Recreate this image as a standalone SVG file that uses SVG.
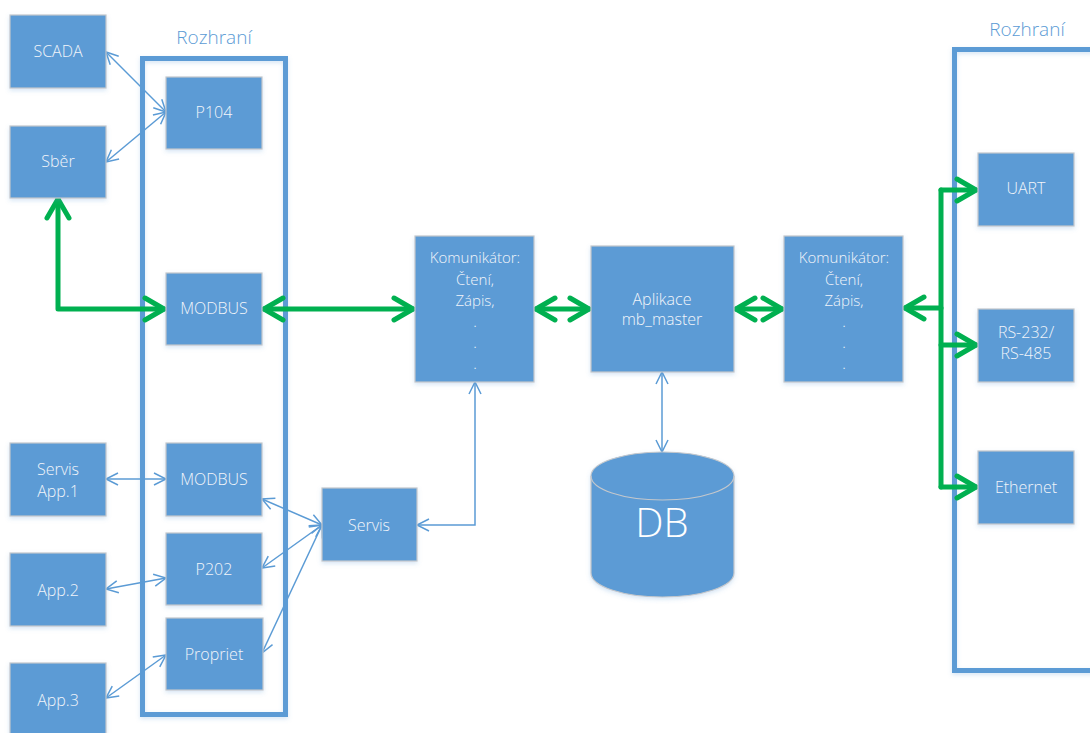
<svg xmlns="http://www.w3.org/2000/svg" width="1090" height="733" viewBox="0 0 1090 733">
  <style>
    .box { fill: #5B9BD5; stroke: #C3C7CC; stroke-width: 1.2; filter: url(#soft); }
    .frame { fill: none; stroke: #5B9BD5; stroke-width: 5; filter: url(#soft); }
    .lbl { font-family: "Open Sans", "Liberation Sans", sans-serif; font-weight: 300; font-size: 16px; fill: #F2F5FA; text-anchor: middle; }
    .kom { font-size: 15px; }
    .title { font-family: "Open Sans", "Liberation Sans", sans-serif; font-weight: 300; font-size: 19px; fill: #5B9BD5; text-anchor: middle; }
    .db { font-family: "Open Sans", "Liberation Sans", sans-serif; font-weight: 300; font-size: 40px; fill: #FFFFFF; text-anchor: middle; }
    .thin { fill: none; stroke: #5B9BD5; stroke-width: 1.5; marker-start: url(#blueHead); marker-end: url(#blueHead); }
    .thick { fill: none; stroke: #00B050; stroke-width: 5; stroke-linejoin: round; stroke-linecap: round; }
    .both { marker-start: url(#greenHead); marker-end: url(#greenHead); }
    .end { marker-end: url(#greenHead); }
  </style>
  <defs>
    <filter id="soft" x="-10%" y="-10%" width="120%" height="125%">
      <feDropShadow dx="0" dy="2" stdDeviation="2" flood-color="#5B9BD5" flood-opacity="0.25"/>
    </filter>
    <marker id="blueHead" markerUnits="userSpaceOnUse" viewBox="-14 -8 16 16" refX="0" refY="0" markerWidth="16" markerHeight="16" orient="auto-start-reverse" overflow="visible">
      <path d="M -12 -6 L 0 0 L -12 6" fill="none" stroke="#5B9BD5" stroke-width="1.5"/>
    </marker>
    <marker id="greenHead" markerUnits="userSpaceOnUse" viewBox="-24 -14 28 28" refX="0" refY="0" markerWidth="28" markerHeight="28" orient="auto-start-reverse" overflow="visible">
      <path d="M -19 -11 L 0 0 L -19 11" fill="none" stroke="#00B050" stroke-width="5" stroke-linecap="round" stroke-linejoin="round"/>
    </marker>
  </defs>

  <rect width="1090" height="733" fill="#FFFFFF"/>

  <!-- interface frames -->
  <g id="frame-left">
    <text class="title" x="214" y="44">Rozhraní</text>
    <rect class="frame" x="142.5" y="58.5" width="143" height="656"/>
  </g>
  <g id="frame-right">
    <text class="title" x="1027" y="36">Rozhraní</text>
    <rect class="frame" x="954.5" y="49.5" width="200" height="621"/>
  </g>

  <!-- connectors -->
  <g id="connectors">
    <path class="thin" d="M 106 52 L 166 112"/>
    <path class="thin" d="M 106 162 L 166 112"/>
    <path class="thin" d="M 106 479 L 166 479"/>
    <path class="thin" d="M 106 589 L 166 578"/>
    <path class="thin" d="M 106 698 L 166 655"/>
    <path class="thin" d="M 262 499 L 322 525"/>
    <path class="thin" d="M 262 568 L 322 525"/>
    <path class="thin" d="M 262 653 L 322 525"/>
    <path class="thin" d="M 475 382 V 525 H 417"/>
    <path class="thin" d="M 662 372 V 452"/>

    <path class="thick both" d="M 58 199 V 309 H 164"/>
    <path class="thick both" d="M 264 309 H 413"/>
    <path class="thick both" d="M 536 309 H 589"/>
    <path class="thick both" d="M 736 309 H 782"/>
    <path class="thick end" d="M 941 308 H 905"/>
    <path class="thick" d="M 941 190 V 487"/>
    <path class="thick end" d="M 941 190 H 976"/>
    <path class="thick end" d="M 941 345 H 976"/>
    <path class="thick end" d="M 941 487 H 976"/>
  </g>

  <!-- left column -->
  <g id="scada">
    <rect class="box" x="10" y="15" width="96" height="73"/>
    <text class="lbl" x="58" y="57">SCADA</text>
  </g>
  <g id="sber">
    <rect class="box" x="10" y="126" width="96" height="72"/>
    <text class="lbl" x="58" y="167">Sběr</text>
  </g>
  <g id="servis-app1">
    <rect class="box" x="10" y="443" width="96" height="73"/>
    <text class="lbl" x="58" y="475">Servis</text>
    <text class="lbl" x="58" y="497">App.1</text>
  </g>
  <g id="app2">
    <rect class="box" x="10" y="553" width="96" height="73"/>
    <text class="lbl" x="58" y="596">App.2</text>
  </g>
  <g id="app3">
    <rect class="box" x="10" y="663" width="96" height="73"/>
    <text class="lbl" x="58" y="706">App.3</text>
  </g>

  <!-- left interfaces -->
  <g id="p104">
    <rect class="box" x="166" y="77" width="96" height="72"/>
    <text class="lbl" x="214" y="118">P104</text>
  </g>
  <g id="modbus-top">
    <rect class="box" x="166" y="273" width="96" height="72"/>
    <text class="lbl" x="214" y="314">MODBUS</text>
  </g>
  <g id="modbus-bottom">
    <rect class="box" x="166" y="443" width="96" height="73"/>
    <text class="lbl" x="214" y="485">MODBUS</text>
  </g>
  <g id="p202">
    <rect class="box" x="166" y="533" width="96" height="72"/>
    <text class="lbl" x="214" y="575">P202</text>
  </g>
  <g id="propriet">
    <rect class="box" x="166" y="618" width="97" height="72"/>
    <text class="lbl" x="214" y="660">Propriet</text>
  </g>

  <g id="servis">
    <rect class="box" x="322" y="488" width="95" height="73"/>
    <text class="lbl" x="369" y="531">Servis</text>
  </g>

  <!-- core -->
  <g id="komunikator-left">
    <rect class="box" x="415" y="236" width="119" height="146"/>
    <text class="lbl kom" x="475" y="263">Komunikátor:</text>
    <text class="lbl kom" x="475" y="285">Čtení,</text>
    <text class="lbl kom" x="475" y="306">Zápis,</text>
    <text class="lbl kom" x="475" y="327">.</text>
    <text class="lbl kom" x="475" y="348">.</text>
    <text class="lbl kom" x="475" y="369">.</text>
  </g>
  <g id="aplikace">
    <rect class="box" x="591" y="246" width="143" height="126"/>
    <text class="lbl" x="662" y="305">Aplikace</text>
    <text class="lbl" x="662" y="325">mb_master</text>
  </g>
  <g id="komunikator-right">
    <rect class="box" x="784" y="236" width="119" height="146"/>
    <text class="lbl kom" x="844" y="263">Komunikátor:</text>
    <text class="lbl kom" x="844" y="285">Čtení,</text>
    <text class="lbl kom" x="844" y="306">Zápis,</text>
    <text class="lbl kom" x="844" y="327">.</text>
    <text class="lbl kom" x="844" y="348">.</text>
    <text class="lbl kom" x="844" y="369">.</text>
  </g>

  <g id="db">
    <path class="box" d="M 591 476 V 573 A 71.5 24 0 0 0 734 573 V 476 A 71.5 24 0 0 0 591 476 Z"/>
    <path d="M 591 476 A 71.5 24 0 0 0 734 476" fill="none" stroke="#C3C7CC" stroke-width="1.2"/>
    <text class="db" x="662" y="537">DB</text>
  </g>

  <!-- right interfaces -->
  <g id="uart">
    <rect class="box" x="978" y="153" width="96" height="73"/>
    <text class="lbl" x="1026" y="194">UART</text>
  </g>
  <g id="rs">
    <rect class="box" x="978" y="309" width="96" height="73"/>
    <text class="lbl" x="1026" y="338">RS-232/</text>
    <text class="lbl" x="1026" y="359">RS-485</text>
  </g>
  <g id="ethernet">
    <rect class="box" x="978" y="451" width="96" height="73"/>
    <text class="lbl" x="1026" y="493">Ethernet</text>
  </g>
</svg>
